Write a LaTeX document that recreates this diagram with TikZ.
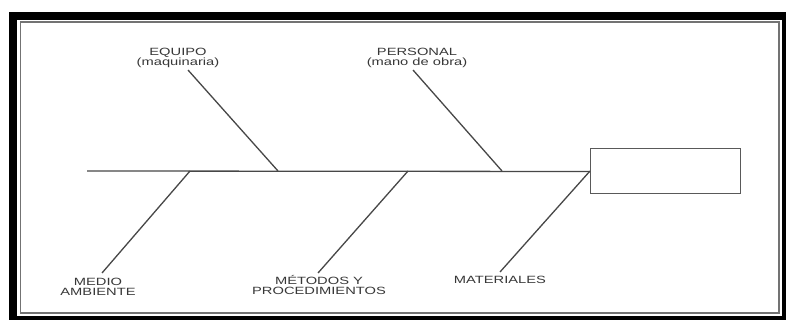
\documentclass[tikz,border=0pt]{standalone}
\usepackage{fontspec}
\newfontfamily\causafont[FakeStretch=1.4]{Liberation Sans}

\tikzset{
  rib/.style={draw=black!72, line width=1.3pt},
  causa/.style={font=\causafont\fontsize{10.5}{10}\selectfont, text=black!78,
                align=center, inner sep=0pt, anchor=north},
}

\begin{document}
\begin{tikzpicture}[x=1pt,y=-1pt]
    \useasboundingbox (0,0) rectangle (786,320);
    \def\spineY{171}
    % marco
    \fill[black] (9,12) rectangle (786,320);
    \fill[white] (17,20) rectangle (782,316);
    \draw[black!55, line width=1.6pt] (20.5,22) rectangle (779,313);

    \node[draw=black!65, line width=1pt, minimum width=150pt, minimum height=45pt,
          inner sep=0pt] (efecto) at (665,171.5) {};
    \coordinate (cola) at (87,\spineY);
    \draw[rib] (cola) -- (efecto.west);

    \node[causa] (equipo)     at (178,48)  {EQUIPO\\(maquinaria)};
    \node[causa] (personal)   at (417,48)  {PERSONAL\\(mano de obra)};
    \node[causa] (medio)      at (98,278)  {MEDIO\\AMBIENTE};
    \node[causa] (metodos)    at (319,275) {MÉTODOS Y\\PROCEDIMIENTOS};
    \node[causa] (materiales) at (500,276) {MATERIALES};

    \foreach \n/\tx/\ty/\jx in {equipo/188/70/278, personal/413/70/502,
                                medio/102/273/190, metodos/318/273/408,
                                materiales/500/272/590} {
      \coordinate (\n-tip) at (\tx,\ty);
      \coordinate (\n-join) at (\jx,\spineY);
      \draw[rib] (\n-tip) -- (\n-join);
    }
\end{tikzpicture}
\end{document}
